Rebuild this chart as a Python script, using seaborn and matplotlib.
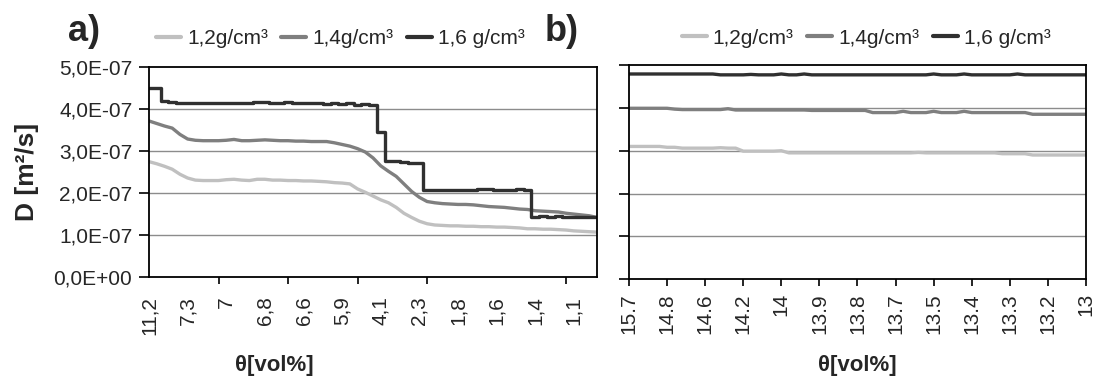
import matplotlib
matplotlib.use("Agg")
import matplotlib.pyplot as plt
import seaborn as sns
import pandas as pd
from matplotlib.ticker import FixedLocator, NullFormatter

# ---------------- data ----------------
series_names = ["1,2g/cm³", "1,4g/cm³", "1,6 g/cm³"]
series_colors = ["#c0c0c0", "#7f7f7f", "#303030"]

# panel a: theta categories (labels shown every 5th category), D in units of 1E-07 m²/s
a_theta_labels = ["11,2", "7,3", "7", "6,8", "6,6", "5,9", "4,1", "2,3", "1,8", "1,6", "1,4", "1,1"]
a_d12 = [2.75, 2.70, 2.64, 2.57, 2.45, 2.36, 2.31, 2.30, 2.30, 2.30,
         2.32, 2.33, 2.31, 2.30, 2.33, 2.33, 2.31, 2.31, 2.30, 2.30,
         2.29, 2.29, 2.28, 2.27, 2.25, 2.24, 2.22, 2.10, 2.02, 1.93,
         1.84, 1.77, 1.66, 1.52, 1.42, 1.33, 1.27, 1.24, 1.23, 1.22,
         1.22, 1.21, 1.21, 1.20, 1.20, 1.19, 1.19, 1.18, 1.17, 1.15,
         1.15, 1.14, 1.14, 1.13, 1.12, 1.10, 1.09, 1.08, 1.07]
a_d14 = [3.72, 3.66, 3.60, 3.55, 3.40, 3.29, 3.26, 3.25, 3.25, 3.25,
         3.26, 3.28, 3.25, 3.25, 3.26, 3.27, 3.26, 3.25, 3.25, 3.24,
         3.24, 3.23, 3.23, 3.23, 3.20, 3.16, 3.12, 3.06, 2.98, 2.84,
         2.65, 2.52, 2.40, 2.22, 2.04, 1.90, 1.80, 1.77, 1.75, 1.74,
         1.73, 1.73, 1.72, 1.70, 1.68, 1.67, 1.66, 1.64, 1.62, 1.61,
         1.58, 1.57, 1.56, 1.55, 1.52, 1.50, 1.48, 1.46, 1.42]
a_d16 = [4.50, 4.50, 4.19, 4.18, 4.15, 4.15, 4.15, 4.15, 4.15, 4.15,
         4.15, 4.15, 4.15, 4.15, 4.17, 4.17, 4.15, 4.15, 4.17, 4.15,
         4.15, 4.15, 4.14, 4.12, 4.14, 4.12, 4.14, 4.11, 4.12, 4.10,
         3.45, 2.77, 2.77, 2.74, 2.72, 2.72, 2.08, 2.08, 2.08, 2.08,
         2.08, 2.08, 2.08, 2.10, 2.10, 2.08, 2.08, 2.08, 2.10, 2.08,
         1.44, 1.46, 1.44, 1.46, 1.44, 1.44, 1.44, 1.44, 1.44]

# panel b
b_theta_labels = ["15.7", "14.8", "14.6", "14.2", "14", "13.9", "13.8", "13.7", "13.5", "13.4", "13.3", "13.2", "13"]
b_d12 = [3.10, 3.10, 3.10, 3.10, 3.10, 3.08, 3.08, 3.06, 3.06, 3.06,
         3.06, 3.06, 3.07, 3.06, 3.06, 2.99, 2.99, 2.99, 2.99, 2.99,
         3.00, 2.95, 2.95, 2.95, 2.95, 2.95, 2.95, 2.95, 2.95, 2.95,
         2.95, 2.95, 2.95, 2.95, 2.95, 2.95, 2.95, 2.95, 2.96, 2.95,
         2.95, 2.95, 2.95, 2.95, 2.95, 2.95, 2.95, 2.95, 2.95, 2.93,
         2.93, 2.93, 2.93, 2.90, 2.90, 2.90, 2.90, 2.90, 2.90, 2.90, 2.90]
b_d14 = [3.99, 3.99, 3.99, 3.99, 3.99, 3.99, 3.97, 3.96, 3.96, 3.96,
         3.96, 3.96, 3.96, 3.98, 3.95, 3.95, 3.95, 3.95, 3.95, 3.95,
         3.95, 3.95, 3.95, 3.95, 3.94, 3.94, 3.94, 3.94, 3.94, 3.94,
         3.94, 3.94, 3.89, 3.89, 3.89, 3.89, 3.92, 3.89, 3.89, 3.89,
         3.92, 3.89, 3.89, 3.89, 3.92, 3.89, 3.89, 3.89, 3.89, 3.89,
         3.89, 3.89, 3.89, 3.85, 3.85, 3.85, 3.85, 3.85, 3.85, 3.85, 3.85]
b_d16 = [4.79, 4.79, 4.79, 4.79, 4.79, 4.79, 4.79, 4.79, 4.79, 4.79,
         4.79, 4.79, 4.77, 4.77, 4.77, 4.77, 4.78, 4.77, 4.77, 4.77,
         4.79, 4.77, 4.77, 4.79, 4.77, 4.77, 4.77, 4.77, 4.77, 4.77,
         4.77, 4.77, 4.77, 4.77, 4.77, 4.77, 4.77, 4.77, 4.77, 4.77,
         4.79, 4.77, 4.77, 4.77, 4.79, 4.77, 4.77, 4.77, 4.77, 4.77,
         4.77, 4.79, 4.77, 4.77, 4.77, 4.77, 4.77, 4.77, 4.77, 4.77, 4.77]

y_tick_values = [0, 1, 2, 3, 4, 5]  # units of 1E-07
y_tick_labels = ["0,0E+00", "1,0E-07", "2,0E-07", "3,0E-07", "4,0E-07", "5,0E-07"]
y_label = "D [m²/s]"
x_label = "θ[vol%]"

# ---------------- style ----------------
sns.set_style("white")
plt.rcParams["font.family"] = ["Liberation Sans", "DejaVu Sans"]

FS = 15
fig = plt.figure(figsize=(10.95, 3.85), dpi=100)
ax_a = fig.add_axes([0.1361, 0.2805, 0.4091, 0.5447])
ax_b = fig.add_axes([0.5744, 0.2745, 0.4174, 0.5567])


def build_frame(values_list):
    rows = []
    for name, vals in zip(series_names, values_list):
        for i, v in enumerate(vals):
            rows.append({"idx": i, "D": v * 1e-7, "series": name})
    return pd.DataFrame(rows)


df_a = build_frame([a_d12, a_d14, a_d16])
df_b = build_frame([b_d12, b_d14, b_d16])

for ax, df, step_last in [(ax_a, df_a, True), (ax_b, df_b, False)]:
    for k, name in enumerate(series_names):
        sub = df[df["series"] == name]
        kw = {}
        if step_last and k == 2:
            kw["drawstyle"] = "steps-mid"
        sns.lineplot(data=sub, x="idx", y="D", ax=ax, color=series_colors[k],
                     linewidth=2.4, label=name, estimator=None, sort=True, **kw)

# axes formatting
for ax, n_pts in [(ax_a, len(a_d12)), (ax_b, len(b_d12))]:
    ax.set_xlim(0, n_pts - 1)
    ax.set_ylim(0, 5e-7)
    ax.set_yticks([v * 1e-7 for v in y_tick_values])
    ax.grid(False)
    for yv in y_tick_values[1:-1]:
        ax.axhline(yv * 1e-7, color="#8c8c8c", linewidth=1.0, zorder=0)
    for sp in ax.spines.values():
        sp.set_color("black")
        sp.set_linewidth(1.3)
    ax.set_xlabel("")
    ax.set_ylabel("")

# panel a ticks: labels every 5 categories, tick marks every 9
ax_a.set_xticks(list(range(0, len(a_d12), 5)))
ax_a.set_xticklabels(a_theta_labels, rotation=90, fontsize=FS)
ax_a.xaxis.set_minor_locator(FixedLocator(list(range(0, len(a_d12), 9))))
ax_a.tick_params(axis="x", which="major", length=0, pad=14)
ax_a.tick_params(axis="x", which="minor", length=5, width=1.2, color="black", direction="out", bottom=True)
ax_a.set_yticklabels(y_tick_labels, fontsize=FS)
ax_a.tick_params(axis="y", length=7, width=1.2, color="black", direction="out", left=True, pad=5)

# panel b ticks
ax_b.set_xticks(list(range(0, len(b_d12), 5)))
ax_b.set_xticklabels(b_theta_labels, rotation=90, fontsize=FS)
ax_b.tick_params(axis="x", which="major", length=5, width=1.2, color="black", direction="out", bottom=True, pad=5)
ax_b.yaxis.set_major_formatter(NullFormatter())
ax_b.tick_params(axis="y", length=7, width=1.2, color="black", direction="out", left=True)

# labels
ax_a.set_ylabel(y_label, fontsize=19, fontweight="bold")
ax_a.yaxis.set_label_coords(-0.245, 0.5)
ax_a.set_xlabel(x_label, fontsize=16, fontweight="bold")
ax_a.xaxis.set_label_coords(0.28, -0.37)
ax_b.set_xlabel(x_label, fontsize=16, fontweight="bold")
ax_b.xaxis.set_label_coords(0.50, -0.355)

# panel letters
fig.text(0.062, 0.919, "a)", fontsize=26, fontweight="bold", va="center", ha="left")
fig.text(0.497, 0.919, "b)", fontsize=26, fontweight="bold", va="center", ha="left")

# legends
for ax, x0, y0 in [(ax_a, 0.015, 1.135), (ax_b, 0.115, 1.125)]:
    ax.legend(loc="center left", bbox_to_anchor=(x0, y0), ncol=3, frameon=False,
              fontsize=FS, handlelength=1.2, handletextpad=0.3, columnspacing=0.65,
              borderaxespad=0, borderpad=0)
    for line in ax.get_legend().get_lines():
        line.set_linewidth(3.0)

fig.savefig("out.png", dpi=100)
